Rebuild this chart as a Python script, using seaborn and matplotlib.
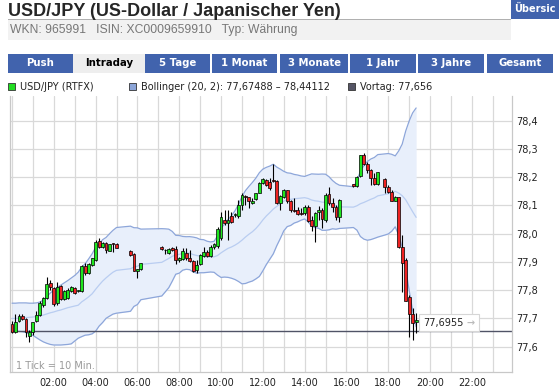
import numpy as np
import pandas as pd
import seaborn as sns
import matplotlib.pyplot as plt
from matplotlib.patches import Rectangle

# USD/JPY Intraday, 10-Minuten-Kerzen (Lücken = keine Kurse)
zeit = [
    "00:00", "00:10", "00:20", "00:30", "00:40", "00:50",
    "01:00", "01:10", "01:20", "01:30", "01:40", "01:50",
    "02:00", "02:10", "02:20", "02:30", "02:40", "02:50",
    "03:00", "03:10", "03:20", "03:30", "03:40", "03:50",
    "04:00", "04:10", "04:20", "04:30", "04:40", "04:50",
    "05:00",
    "05:40", "05:50", "06:00", "06:10",
    "07:10", "07:20", "07:30", "07:40", "07:50",
    "08:00", "08:10", "08:20", "08:30", "08:40", "08:50",
    "09:00", "09:10", "09:20", "09:30", "09:40", "09:50",
    "10:00", "10:10", "10:20", "10:30", "10:40", "10:50",
    "11:00", "11:10", "11:20", "11:30", "11:40", "11:50",
    "12:00", "12:10", "12:20", "12:30", "12:40", "12:50",
    "13:00", "13:10", "13:20", "13:30", "13:40", "13:50",
    "14:00", "14:10", "14:20", "14:30", "14:40", "14:50",
    "15:00", "15:10", "15:20", "15:30", "15:40",
    "16:20", "16:30", "16:40", "16:50", "17:00", "17:10", "17:20", "17:30",
    "17:50", "18:00", "18:10", "18:20", "18:30", "18:40", "18:50", "19:00", "19:10", "19:20",
]

eroeffnung = [
    77.681, 77.653, 77.691, 77.709, 77.697, 77.638, 77.653, 77.691, 77.712, 77.748,
    77.774, 77.824, 77.809, 77.754, 77.815, 77.769, 77.772, 77.797, 77.807, 77.797,
    77.797, 77.887, 77.862, 77.889, 77.907, 77.974, 77.954, 77.968, 77.940, 77.966,
    77.963,
    77.938, 77.928, 77.869, 77.874,
    77.952, 77.943, 77.931, 77.948, 77.945, 77.907, 77.909, 77.931, 77.915, 77.903,
    77.871, 77.893, 77.922, 77.936, 77.921, 77.952, 77.957, 77.984, 78.049, 78.039,
    78.063, 78.066, 78.063, 78.102, 78.134, 78.129, 78.108, 78.122, 78.143, 78.178,
    78.190, 78.184, 78.190, 78.188, 78.108, 78.131, 78.153, 78.116, 78.084, 78.084,
    78.073, 78.072, 78.096, 78.049, 78.028, 78.078, 78.084, 78.049, 78.141, 78.108,
    78.096, 78.058,
    78.175, 78.169, 78.205, 78.279, 78.247, 78.226, 78.196, 78.176,
    78.193, 78.167, 78.149, 78.114, 78.129, 77.952, 77.907, 77.775, 77.716, 77.686,
]
hoch = [
    77.690, 77.715, 77.715, 77.715, 77.700, 77.660, 77.689, 77.726, 77.760, 77.777,
    77.845, 77.836, 77.812, 77.830, 77.820, 77.800, 77.806, 77.815, 77.810, 77.802,
    77.890, 77.895, 77.895, 77.915, 77.977, 77.986, 77.970, 77.972, 77.965, 77.967,
    77.966,
    77.944, 77.930, 77.874, 77.897,
    77.957, 77.945, 77.948, 77.952, 77.955, 77.919, 77.948, 77.948, 77.942, 77.907,
    77.907, 77.927, 77.954, 77.942, 77.960, 77.966, 78.025, 78.078, 78.084, 78.084,
    78.078, 78.072, 78.119, 78.143, 78.137, 78.131, 78.125, 78.143, 78.184, 78.196,
    78.192, 78.196, 78.247, 78.190, 78.137, 78.157, 78.155, 78.120, 78.125, 78.096,
    78.090, 78.102, 78.102, 78.063, 78.078, 78.098, 78.090, 78.143, 78.167, 78.125,
    78.102, 78.122,
    78.177, 78.205, 78.280, 78.287, 78.255, 78.228, 78.214, 78.220,
    78.196, 78.173, 78.153, 78.134, 78.131, 77.996, 77.913, 77.783, 77.736, 77.718,
]
tief = [
    77.647, 77.648, 77.688, 77.695, 77.636, 77.618, 77.642, 77.689, 77.710, 77.742,
    77.769, 77.800, 77.745, 77.748, 77.765, 77.765, 77.770, 77.795, 77.788, 77.794,
    77.795, 77.855, 77.858, 77.885, 77.905, 77.951, 77.950, 77.930, 77.938, 77.936,
    77.948,
    77.921, 77.869, 77.842, 77.871,
    77.942, 77.928, 77.928, 77.937, 77.893, 77.901, 77.907, 77.907, 77.901, 77.866,
    77.862, 77.889, 77.919, 77.919, 77.919, 77.945, 77.948, 77.978, 78.031, 77.978,
    78.037, 78.060, 78.055, 78.084, 78.102, 78.090, 78.104, 78.119, 78.143, 78.176,
    78.170, 78.155, 78.184, 78.105, 78.084, 78.128, 78.110, 78.078, 78.078, 78.066,
    78.066, 78.066, 78.043, 78.008, 77.972, 78.049, 78.019, 78.043, 78.102, 78.078,
    78.049, 78.043,
    78.167, 78.167, 78.202, 78.243, 78.214, 78.173, 78.173, 78.173,
    78.143, 78.143, 78.114, 78.114, 77.948, 77.795, 77.760, 77.636, 77.624, 77.650,
]
schluss = [
    77.651, 77.689, 77.707, 77.698, 77.651, 77.653, 77.689, 77.712, 77.754, 77.771,
    77.821, 77.810, 77.750, 77.813, 77.769, 77.797, 77.801, 77.810, 77.791, 77.799,
    77.886, 77.862, 77.892, 77.913, 77.969, 77.954, 77.968, 77.942, 77.963, 77.965,
    77.951,
    77.924, 77.869, 77.874, 77.895,
    77.945, 77.941, 77.945, 77.943, 77.907, 77.915, 77.937, 77.913, 77.903, 77.868,
    77.889, 77.925, 77.934, 77.921, 77.952, 77.962, 78.016, 78.058, 78.037, 78.049,
    78.043, 78.070, 78.102, 78.137, 78.129, 78.114, 78.116, 78.143, 78.181, 78.193,
    78.173, 78.161, 78.188, 78.108, 78.134, 78.155, 78.114, 78.084, 78.081, 78.070,
    78.070, 78.096, 78.046, 78.028, 78.072, 78.084, 78.051, 78.137, 78.108, 78.096,
    78.058, 78.120,
    78.169, 78.202, 78.279, 78.247, 78.226, 78.196, 78.176, 78.218,
    78.167, 78.149, 78.114, 78.129, 77.952, 77.898, 77.760, 77.716, 77.685, 77.6955,
]

# Bollinger-Band der ersten 19 Kerzen (Vortagesdaten nicht sichtbar)
bb_start_oben = [77.754, 77.754, 77.755, 77.755, 77.755, 77.754, 77.754, 77.755, 77.758, 77.765,
                 77.778, 77.790, 77.800, 77.810, 77.818, 77.826, 77.834, 77.843, 77.852]
bb_start_mitte = [77.700, 77.700, 77.701, 77.702, 77.703, 77.704, 77.705, 77.707, 77.709, 77.712,
                  77.716, 77.720, 77.723, 77.727, 77.730, 77.734, 77.738, 77.741, 77.744]
bb_start_unten = [77.656, 77.655, 77.654, 77.653, 77.650, 77.645, 77.640, 77.632, 77.624, 77.617,
                  77.612, 77.608, 77.606, 77.606, 77.606, 77.607, 77.608, 77.610, 77.620]

vortag = 77.656
letzter = 77.6955
y_ticks = [77.6, 77.7, 77.8, 77.9, 78.0, 78.1, 78.2, 78.3, 78.4]
tabs = ["Push", "Intraday", "5 Tage", "1 Monat", "3 Monate", "1 Jahr", "3 Jahre", "Gesamt"]

# ---- Daten aufbereiten
df = pd.DataFrame({"zeit": zeit, "open": eroeffnung, "high": hoch, "low": tief, "close": schluss})
hm = df["zeit"].str.split(":", expand=True).astype(int)
df["t"] = hm[0] + hm[1] / 60

mitte = df["close"].rolling(20).mean()
sd = df["close"].rolling(20).std(ddof=0)
df["bb_mid"] = mitte
df["bb_up"] = mitte + 2 * sd
df["bb_lo"] = mitte - 2 * sd
df.loc[:18, "bb_up"] = bb_start_oben
df.loc[:18, "bb_mid"] = bb_start_mitte
df.loc[:18, "bb_lo"] = bb_start_unten

# ---- Figur
sns.set_style("white")
plt.rcParams["font.family"] = ["DejaVu Sans"]

W, H = 559, 392
fig = plt.figure(figsize=(W / 100, H / 100), dpi=100)

def fx(x):
    return x / W

def fy(y):
    return 1 - y / H

def box(x0, y0, x1, y1, fc, ec="none", lw=0):
    fig.patches.append(Rectangle((fx(x0), fy(y1)), (x1 - x0) / W, (y1 - y0) / H,
                                 transform=fig.transFigure, facecolor=fc,
                                 edgecolor=ec, linewidth=lw))

blau = "#4163ad"

# Kopfbereich
fig.text(fx(8), fy(16.5), "USD/JPY (US-Dollar / Japanischer Yen)", family="Liberation Sans",
         weight="bold", size=13, va="baseline", ha="left")
box(8, 19, 511, 20, "#b0b0b0")
box(8, 20, 511, 40, "#f2f2f2")
fig.text(fx(10), fy(33.5), "WKN: 965991   ISIN: XC0009659910   Typ: Währung",
         family="Liberation Sans", size=8.7, color="#777777", va="baseline")
box(511, 0, 559, 19, blau)
fig.text(fx(514), fy(12.5), "Übersic", weight="bold", size=7, color="white", va="baseline")

# Reiter
tab_x = [(8, 73), (73, 145), (145, 210), (212, 277), (280, 348), (350, 416), (418, 484), (487, 553)]
for name, (a, b) in zip(tabs, tab_x):
    aktiv = name == "Intraday"
    box(a, 54, b, 73, "#eeeeee" if aktiv else blau)
    fig.text(fx((a + b) / 2), fy(63.5), name, weight="bold", size=7.3,
             color="black" if aktiv else "white", ha="center", va="center")

# Legende
leg = [(8, "#22dd22", "USD/JPY (RTFX)"),
       (129, "#8ca5d8", "Bollinger (20, 2): 77,67488 – 78,44112"),
       (348, "#555566", "Vortag: 77,656")]
for x0, col, txt in leg:
    box(x0, 83, x0 + 7, 90, col, ec="#333333", lw=0.6)
    fig.text(fx(x0 + 12), fy(86.5), txt, size=7, va="center", color="#222222")

# ---- Chart
ax = fig.add_axes([fx(10), 20 / H, 502 / W, 276 / H])
ax.set_xlim(-0.096, 23.92)
ax.set_ylim(77.5104, 78.4874)

ax.fill_between(df["t"], df["bb_lo"], df["bb_up"], color="#e8effb", lw=0, zorder=1)
sns.lineplot(data=df, x="t", y="bb_up", ax=ax, color="#8da6da", lw=0.9, sort=False,
             estimator=None, zorder=2)
sns.lineplot(data=df, x="t", y="bb_lo", ax=ax, color="#8da6da", lw=0.9, sort=False,
             estimator=None, zorder=2)
sns.lineplot(data=df, x="t", y="bb_mid", ax=ax, color="#b9cdf1", lw=0.9, sort=False,
             estimator=None, zorder=2)

ax.axhline(vortag, color="#505366", lw=1.0, zorder=2.5)

# Kerzen
steigend = df["close"] >= df["open"]
koerper = (df["close"] - df["open"]).abs().clip(lower=0.002)
unten = df[["open", "close"]].min(axis=1)
ax.vlines(df["t"], df["low"], df["high"], color="black", lw=0.8, zorder=3)
ax.bar(df["t"], koerper, bottom=unten, width=0.135,
       color=np.where(steigend, "#1ee61e", "#ee2222"),
       edgecolor="black", linewidth=0.5, zorder=4)

# aktueller Kurs: Kasten mit Wert und grauem Pfeil
ax.add_patch(Rectangle((19.47, 77.656), 2.87, 0.06, facecolor="white",
                       edgecolor="#d6d6d6", lw=0.8, zorder=6))
ax.text(19.68, 77.685, "77,6955", ha="left", va="center", size=7, color="#222222", zorder=7)
ax.text(21.72, 77.685, "→", ha="left", va="center", size=7, color="#bbbbbb",
        weight="bold", zorder=7)

ax.text(0.2, 77.532, "1 Tick = 10 Min.", size=7, color="#9a9a9a", ha="left", va="center")

# Achsen
ax.set_xticks(range(0, 24))
ax.set_xticklabels(["" if (h % 2 or h == 0) else f"{h:02d}:00" for h in range(24)])
ax.set_yticks(y_ticks)
ax.set_yticklabels([f"{v:.1f}".replace(".", ",") for v in y_ticks])
ax.yaxis.tick_right()
ax.tick_params(axis="both", length=0, labelsize=7, colors="#222222")
ax.tick_params(axis="x", pad=4)
ax.tick_params(axis="y", pad=3)
ax.grid(True, color="#d9d9d9", lw=0.9, zorder=0)
ax.set_axisbelow(True)
ax.set_xlabel("")
ax.set_ylabel("")
for s in ["left", "bottom", "right"]:
    ax.spines[s].set_color("#c8c8c8")
    ax.spines[s].set_linewidth(0.9)
ax.spines["top"].set_visible(False)

fig.savefig("out.png", dpi=100)
